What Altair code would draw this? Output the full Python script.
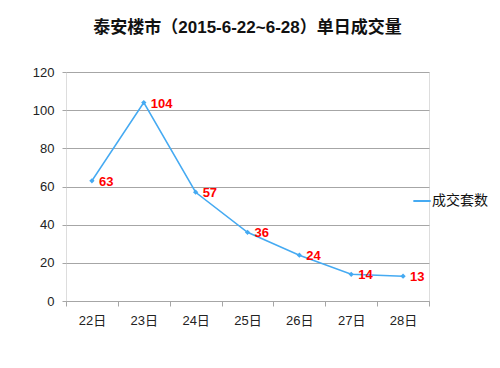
import altair as alt
import pandas as pd

days = ["22日", "23日", "24日", "25日", "26日", "27日", "28日"]
values = [63, 104, 57, 36, 24, 14, 13]
series = ["成交套数"] * 7

df = pd.DataFrame({"day": days, "value": values, "series": series})

FONT = "Liberation Sans, Noto Sans CJK SC"
LINE = "#45AAF2"

x = alt.X("day:N", sort=days, title=None,
          scale=alt.Scale(paddingInner=0, paddingOuter=0),
          axis=alt.Axis(labelAngle=0, tickBand="extent", domainColor="#A6A6A6",
                        tickColor="#A6A6A6", tickSize=5, labelFontSize=13,
                        labelColor="#222222", labelPadding=8, labelFont=FONT))
y = alt.Y("value:Q", title=None,
          scale=alt.Scale(domain=[0, 120], nice=False),
          axis=alt.Axis(values=[0, 20, 40, 60, 80, 100, 120], domain=False,
                        tickSize=4, tickColor="#A6A6A6", gridColor="#A6A6A6",
                        labelFontSize=13, labelColor="#222222", labelPadding=8,
                        labelFont=FONT))

color = alt.Color("series:N", title=None,
                  scale=alt.Scale(domain=["成交套数"], range=[LINE]),
                  legend=alt.Legend(orient="none", legendX=346, legendY=119,
                                    symbolType="stroke", symbolStrokeWidth=2,
                                    symbolSize=300, labelFontSize=14,
                                    labelColor="#111111", labelFont=FONT,
                                    labelOffset=0))

base = alt.Chart(df)
line = base.mark_line(strokeWidth=1.5).encode(x=x, y=y, color=color)
pts = base.mark_point(shape="diamond", filled=True, size=28, opacity=1).encode(
    x=x, y=y, color=alt.Color("series:N", scale=alt.Scale(domain=["成交套数"], range=[LINE]), legend=None))
labels = base.mark_text(align="left", baseline="middle", dx=7, dy=1,
                        fontWeight="bold", fontSize=13, color="#FF0000",
                        font=FONT).encode(x=x, y=y, text="value:Q")

chart = alt.layer(line, pts, labels).properties(
    width=363, height=229,
    autosize=alt.AutoSizeParams(type="none"),
    padding={"left": 58, "top": 64, "right": 63, "bottom": 59},
    title=alt.Title("泰安楼市（2015-6-22~6-28）单日成交量", fontSize=17,
                    fontWeight="bold", font=FONT, color="#111111",
                    offset=29, anchor="middle"),
).configure_view(stroke=None).configure(background="white")

chart.save("out.html", embed_options={"renderer": "svg", "actions": False})
